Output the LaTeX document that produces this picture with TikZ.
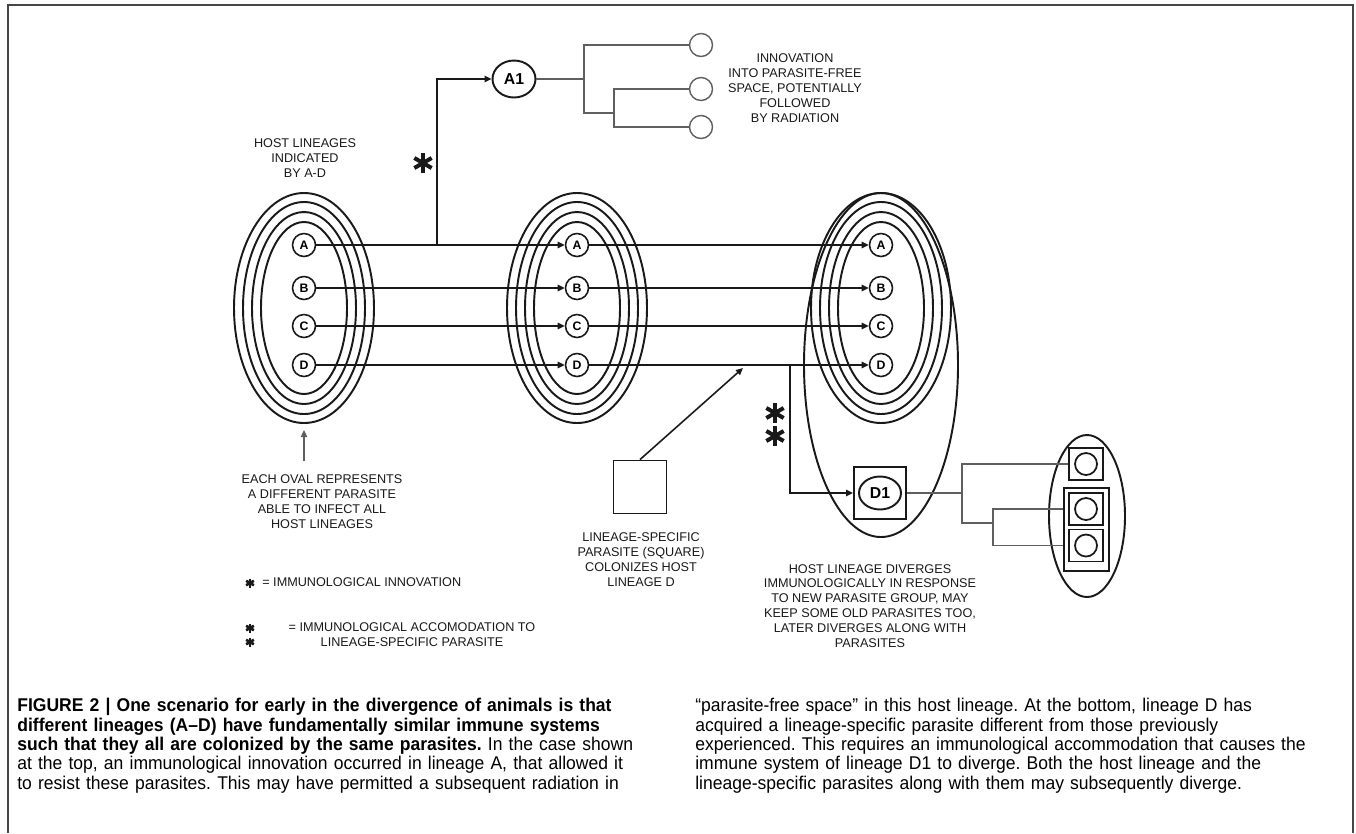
\documentclass[tikz,border=0pt]{standalone}
\usepackage{fontspec}
\newfontfamily\labfont{Liberation Sans}
\newfontfamily\capfont[FakeStretch=0.95]{Liberation Sans}
\usetikzlibrary{arrows.meta, positioning, calc, shapes.geometric}
\definecolor{frame1}{RGB}{70,70,70}
\definecolor{ink1}{RGB}{25,25,25}
\definecolor{tree1}{RGB}{95,95,95}
\tikzset{
  lin/.style={circle, draw=ink1, line width=0.9pt, minimum size=0.46cm, inner sep=0pt, font=\labfont\bfseries\fontsize{7}{7}\selectfont},
  arr/.style={-{Triangle[length=4pt,width=3.6pt]}, line width=1.1pt, draw=ink1},
  tree/.style={draw=tree1, line width=0.8pt},
  leaf/.style={circle, draw=tree1, line width=0.8pt, minimum size=0.46cm, inner sep=0pt},
  note/.style={align=center, text=ink1, font=\labfont\fontsize{7.2}{8.5}\selectfont, inner sep=0pt},
  pbox/.style={draw=ink1, line width=1.1pt, inner sep=0pt},
  bigast/.pic={\foreach \a in {90,30,150} \draw[ink1, line width=2.3pt] (\a:-10) -- (\a:10);},
  smallast/.pic={\foreach \a in {90,30,150} \draw[ink1, line width=1.5pt] (\a:-4.5) -- (\a:4.5);},
}

\begin{document}
\begin{tikzpicture}[x=0.02cm, y=-0.02cm]
  \useasboundingbox (0,0) rectangle (1356,833);
  \draw[frame1, line width=1.2pt] (8,833) -- (8,5) -- (1353,5) -- (1353,833);

  % parasite ovals round the four host lineages
  \foreach \g/\cx in {1/304, 2/577, 3/881}{
    \coordinate (g\g) at (\cx,308);
    \foreach \rx/\ry in {70/115, 61/106, 52/96, 43/86}
      \draw[ink1, line width=1.1pt] (g\g) ellipse [x radius=\rx, y radius=\ry];
    \foreach \l/\ly in {A/245, B/288, C/326, D/365}
      \node[lin] (g\g\l) at (\cx,\ly) {\l};
  }
  \draw[ink1, line width=1.1pt] (881,365) ellipse [x radius=77, y radius=172];

  \foreach \l in {A,B,C,D}{
    \draw[arr] (g1\l) -- (g2\l);
    \draw[arr] (g2\l) -- (g3\l);
  }

  \node[note] (hostlab) at (305,158) {HOST LINEAGES\\INDICATED\\BY A-D};

  % innovation in lineage A
  \node[ellipse, draw=ink1, line width=1.1pt, minimum width=0.86cm, minimum height=0.74cm, inner sep=0pt,
        font=\labfont\bfseries\fontsize{9}{9}\selectfont] (A1) at (514,79) {A1};
  \coordinate (splitA) at (437,245);
  \draw[arr] (splitA) |- (A1);
  \pic (s1) at (423,163) {bigast};

  \node[leaf] (r1) at (701,45) {};
  \node[leaf] (r2) at (701,89) {};
  \node[leaf] (r3) at (701,127) {};
  \coordinate (t1) at (584,79);
  \coordinate (t2) at (614,113);
  \draw[tree] (A1.east) -- (t1);
  \draw[tree] (r1.west) -| (t1) |- (t2);
  \draw[tree] (r2.west) -| (t2) |- (r3.west);
  \node[note] (innov) at (795,88) {INNOVATION\\INTO PARASITE-FREE\\SPACE, POTENTIALLY\\FOLLOWED\\BY RADIATION};

  % the oval note
  \node[note] (ovalnote) at (322,502) {EACH OVAL REPRESENTS\\A DIFFERENT PARASITE\\ABLE TO INFECT ALL\\HOST LINEAGES};
  \coordinate (ovalfoot) at (304,461);
  \coordinate (ovaltip) at (304,430);
  \draw[tree, -{Triangle[length=4pt,width=3.6pt]}] (ovalfoot) -- (ovaltip);

  % lineage-specific parasite
  \node[pbox, minimum size=1.06cm] (lsq) at (640,487) {};
  \coordinate (hitD) at (743,368);
  \draw[arr, line width=0.9pt] (lsq.north) -- (hitD);
  \node[note] (lsqnote) at (641,560) {LINEAGE-SPECIFIC\\PARASITE (SQUARE)\\COLONIZES HOST\\LINEAGE D};

  % accommodation in lineage D
  \node[pbox, minimum size=1.04cm] (D1box) at (880,493) {};
  \node[ellipse, draw=ink1, line width=1.1pt, minimum width=0.84cm, minimum height=0.66cm, inner sep=0pt,
        font=\labfont\bfseries\fontsize{9}{9}\selectfont] (D1) at (D1box) {D1};
  \coordinate (splitD) at (790,365);
  \draw[arr] (splitD) |- (D1box.west);
  \pic (s2) at (775,413) {bigast};
  \pic (s3) at (775,436) {bigast};

  \draw[ink1, line width=1.1pt] (1087,516) ellipse [x radius=38, y radius=81];
  \node[pbox, minimum width=0.9cm, minimum height=1.66cm] (pgrp) at (1086.5,529.5) {};
  \foreach \p/\py in {p1/464, p2/509, p3/545.5}{
    \node[pbox, minimum width=0.68cm, minimum height=0.64cm] (\p) at (1086,\py) {};
    \node[circle, draw=ink1, line width=1pt, minimum size=0.44cm, inner sep=0pt] at (\p) {};
  }
  \coordinate (u1) at (962,493);
  \coordinate (u2) at (993,523);
  \draw[tree] (D1box.east) -- (u1);
  \draw[tree] (p1.west) -| (u1) |- (u2);
  \draw[tree] (pgrp.west |- p2) -| (u2) |- (pgrp.west |- p3);
  \node[note] (divnote) at (870,606) {HOST LINEAGE DIVERGES\\IMMUNOLOGICALLY IN RESPONSE\\TO NEW PARASITE GROUP, MAY\\KEEP SOME OLD PARASITES TOO,\\LATER DIVERGES ALONG WITH\\PARASITES};

  % key
  \pic (k1) at (250,583) {smallast};
  \node[note, anchor=west] (k1txt) at (262,582) {= IMMUNOLOGICAL INNOVATION};
  \pic (k2) at (250,628) {smallast};
  \pic (k3) at (250,642) {smallast};
  \node[note] (k2txt) at (412,635) {= IMMUNOLOGICAL ACCOMODATION TO\\LINEAGE-SPECIFIC PARASITE};

  % caption
  \node[anchor=north west, align=left, inner sep=0pt, text width=14cm, font=\capfont\fontsize{10.5}{11}\selectfont\frenchspacing] (capL) at (17,698)
    {\bfseries FIGURE 2 | One scenario for early in the divergence of animals is that\\
     different lineages (A–D) have fundamentally similar immune systems\\
     such that they all are colonized by the same parasites. \mdseries In the case shown\\
     at the top, an immunological innovation occurred in lineage A, that allowed it\\
     to resist these parasites. This may have permitted a subsequent radiation in};
  \node[anchor=north west, align=left, inner sep=0pt, text width=14cm, font=\capfont\fontsize{10.5}{11}\selectfont\frenchspacing] (capR) at (695,698)
    {“parasite-free space” in this host lineage. At the bottom, lineage D has\\
     acquired a lineage-specific parasite different from those previously\\
     experienced. This requires an immunological accommodation that causes the\\
     immune system of lineage D1 to diverge. Both the host lineage and the\\
     lineage-specific parasites along with them may subsequently diverge.};
\end{tikzpicture}
\end{document}
